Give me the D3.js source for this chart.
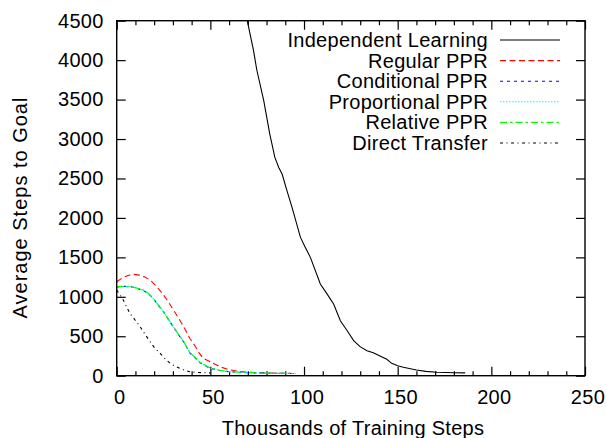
<!DOCTYPE html>
<html>
<head>
<meta charset="utf-8">
<script src="https://cdn.jsdelivr.net/npm/d3@7"></script>
<style>
  body { margin: 0; background: #fff; }
  text { font-family: "Liberation Sans", Arial, Helvetica, sans-serif; }
</style>
</head>
<body>
<div id="chart"></div>
<script>
// values (x in thousands of training steps, y = average steps to goal)
const xTicks = [0, 50, 100, 150, 200, 250];
const yTicks = [0, 500, 1000, 1500, 2000, 2500, 3000, 3500, 4000, 4500];

const independentLearning = [
  [69.7, 4500], [73, 4128], [74.8, 3875], [78.5, 3486], [81.7, 3065], [84.4, 2770],
  [86.5, 2640], [88.3, 2557], [90.8, 2353], [93.6, 2133], [98.1, 1753], [100.5, 1635],
  [103.4, 1500], [108.7, 1162], [112.1, 1044], [115.8, 909], [119.4, 697], [122.8, 579],
  [126.5, 444], [129.9, 368], [133.6, 317], [137, 290], [140, 255], [144.2, 208],
  [146.8, 157], [150, 125], [153, 106], [160, 72], [165, 55], [171, 43], [180, 38], [186, 36]
];
const regularPPR = [
  [0, 1190], [3, 1240], [6, 1270], [9, 1285], [12, 1275], [15, 1250], [18, 1210],
  [21, 1140], [25, 1023], [28, 920], [32, 769], [36, 610], [39, 474], [42, 370],
  [44, 290], [46, 225], [50, 175], [55, 114], [60, 75], [65, 55], [70, 45],
  [80, 35], [90, 30], [95, 28]
];
const conditionalPPR = [
  [0, 1125], [4, 1132], [7, 1130], [10, 1114], [14, 1084], [17, 1038], [19.5, 978],
  [22, 898], [25, 808], [28, 698], [32, 555], [36, 418], [39, 290], [42, 222],
  [44, 172], [46, 143], [50, 92], [55, 66], [60, 50], [70, 38], [80, 32], [93, 28]
];
const proportionalPPR = [
  [0, 1128], [4, 1130], [7, 1128], [10, 1115], [14, 1086], [17, 1040], [19.5, 981],
  [22, 900], [25, 811], [28, 700], [32, 558], [36, 420], [39, 292], [42, 225],
  [44, 175], [46, 145], [50, 95], [55, 68], [60, 51], [70, 38], [80, 32], [96, 28]
];
const relativePPR = [
  [0, 1130], [4, 1131], [7, 1127], [10, 1116], [14, 1088], [17, 1042], [19.5, 983],
  [22, 903], [25, 813], [28, 702], [32, 560], [36, 422], [39, 295], [42, 228],
  [44, 178], [46, 148], [50, 97], [55, 70], [60, 52], [70, 39], [80, 33], [90, 29]
];
const directTransfer = [
  [0, 1086], [3.5, 960], [7, 791], [10, 700], [12.5, 621], [15, 530], [17.8, 431],
  [20, 360], [23.2, 284], [26, 210], [28.5, 157], [31, 120], [33.8, 93], [36, 70],
  [39, 51], [43, 40], [50, 35]
];

const series = [
  { name: "Independent Learning", values: independentLearning, color: "#000", dash: null },
  { name: "Regular PPR", values: regularPPR, color: "#ff0000", dash: "6,3.5" },
  { name: "Conditional PPR", values: conditionalPPR, color: "#0000ff", dash: "3,4" },
  { name: "Proportional PPR", values: proportionalPPR, color: "#00ffff", dash: "1.5,1.5" },
  { name: "Relative PPR", values: relativePPR, color: "#00ff00", dash: "7,3,2.5,3" },
  { name: "Direct Transfer", values: directTransfer, color: "#000", dash: "3,3.5,1,3.5" }
];

const width = 607;
const height = 438;
const margin = { top: 20.7, right: 22, bottom: 62.3, left: 116.7 };
const fontSize = 20;

const x = d3.scaleLinear([0, 250], [margin.left, width - margin.right]);
const y = d3.scaleLinear([0, 4500], [height - margin.bottom, margin.top]);

const svg = d3.create("svg")
    .attr("width", width)
    .attr("height", height)
    .attr("font-size", fontSize);

svg.append("clipPath")
    .attr("id", "plot-clip")
  .append("rect")
    .attr("x", margin.left)
    .attr("y", margin.top)
    .attr("width", x(250) - x(0))
    .attr("height", y(0) - y(4500));

// ticks point inwards on all four sides, like gnuplot
const minorX = d3.range(10, 250, 10).filter(d => d % 50 !== 0);

function tickStyle(g) {
    g.select(".domain").remove();
    g.selectAll("line").attr("stroke", "#000").attr("stroke-width", 1.2);
    g.selectAll("text")
        .attr("fill", "#000")
        .attr("font-size", fontSize)
        .attr("font-family", null)
        .attr("letter-spacing", "0.3px");
}

svg.append("g")
    .attr("transform", `translate(0,${y(0)})`)
    .call(d3.axisBottom(x).tickValues(xTicks).tickSize(-9).tickPadding(14.5).tickFormat(d3.format("d")))
    .call(tickStyle)
    .call(g => g.selectAll("text").attr("dx", 2.5));

svg.append("g")
    .attr("transform", `translate(0,${y(0)})`)
    .call(d3.axisBottom(x).tickValues(minorX).tickSize(-4.5).tickFormat(""))
    .call(tickStyle);

svg.append("g")
    .attr("transform", `translate(0,${y(4500)})`)
    .call(d3.axisTop(x).tickValues(xTicks).tickSize(-9).tickFormat(""))
    .call(tickStyle);

svg.append("g")
    .attr("transform", `translate(0,${y(4500)})`)
    .call(d3.axisTop(x).tickValues(minorX).tickSize(-4.5).tickFormat(""))
    .call(tickStyle);

svg.append("g")
    .attr("transform", `translate(${x(0)},0)`)
    .call(d3.axisLeft(y).tickValues(yTicks).tickSize(-9).tickPadding(13).tickFormat(d3.format("d")))
    .call(tickStyle);

svg.append("g")
    .attr("transform", `translate(${x(250)},0)`)
    .call(d3.axisRight(y).tickValues(yTicks).tickSize(-9).tickFormat(""))
    .call(tickStyle);

// curves
const line = d3.line()
    .x(d => x(d[0]))
    .y(d => y(d[1]));

svg.append("g")
    .attr("clip-path", "url(#plot-clip)")
  .selectAll("path")
  .data(series)
  .join("path")
    .attr("fill", "none")
    .attr("stroke", d => d.color)
    .attr("stroke-width", 1.1)
    .attr("stroke-dasharray", d => d.dash)
    .attr("d", d => line(d.values));

// frame
svg.append("rect")
    .attr("x", x(0))
    .attr("y", y(4500))
    .attr("width", x(250) - x(0))
    .attr("height", y(0) - y(4500))
    .attr("fill", "none")
    .attr("stroke", "#000")
    .attr("stroke-width", 1.4);

// legend
const legend = svg.append("g")
  .selectAll("g")
  .data(series)
  .join("g")
    .attr("transform", (d, i) => `translate(0,${40 + i * 20.6})`);

legend.append("text")
    .attr("x", 488)
    .attr("dy", "0.35em")
    .attr("text-anchor", "end")
    .attr("letter-spacing", "0.3px")
    .text(d => d.name);

legend.append("line")
    .attr("x1", 500)
    .attr("x2", 560)
    .attr("stroke", d => d.color)
    .attr("stroke-width", 1.1)
    .attr("stroke-dasharray", d => d.dash);

// axis titles
svg.append("text")
    .attr("x", 353)
    .attr("y", 435)
    .attr("text-anchor", "middle")
    .attr("letter-spacing", "0.3px")
    .text("Thousands of Training Steps");

svg.append("text")
    .attr("transform", "translate(27,207.5) rotate(-90)")
    .attr("text-anchor", "middle")
    .attr("letter-spacing", "1px")
    .text("Average Steps to Goal");

document.getElementById("chart").appendChild(svg.node());
</script>
</body>
</html>
